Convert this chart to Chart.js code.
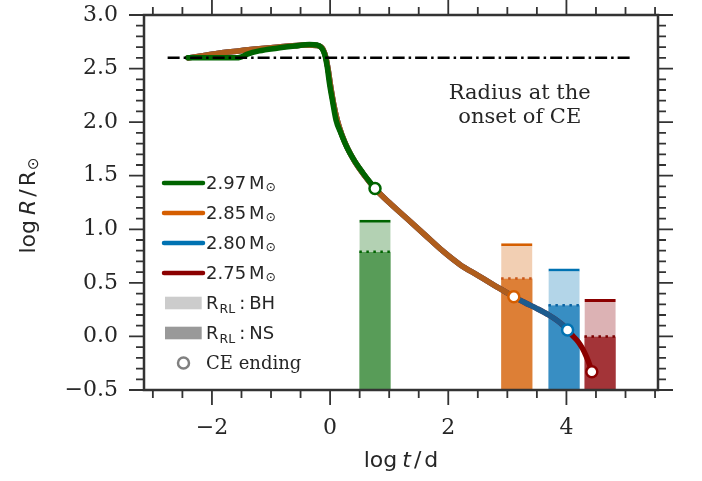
<!DOCTYPE html>
<html>
<head>
<meta charset="utf-8">
<script src="https://cdn.jsdelivr.net/npm/chart.js@4.4.1/dist/chart.umd.min.js"></script>
<style>
  html, body { margin: 0; padding: 0; background: #fff; }
</style>
</head>
<body>
<canvas id="chart" width="702" height="481"></canvas>
<script>
// donor masses (Msun)
const massLabels = ["2.97", "2.85", "2.80", "2.75"];

// radius tracks: log t / d  vs  log R / Rsun
const t297 = [-2.41, -2.0, -1.6, -1.5, -1.4, -1.2, -0.9, -0.6, -0.35, -0.22, -0.14, -0.09, -0.05, -0.01, 0.04, 0.1, 0.18, 0.28, 0.4, 0.55, 0.76];
const r297 = [2.60, 2.60, 2.60, 2.61, 2.635, 2.665, 2.69, 2.71, 2.725, 2.72, 2.69, 2.63, 2.52, 2.36, 2.2, 2.02, 1.90, 1.77, 1.65, 1.53, 1.38];

const t285 = [-2.4, -2.1, -1.8, -1.55, -1.3, -1.0, -0.7, -0.4, -0.22, -0.12, -0.07, -0.03, 0.01, 0.06, 0.12, 0.2, 0.3, 0.42, 0.57, 0.76, 1.0, 1.3, 1.6, 1.9, 2.2, 2.5, 2.8, 3.11];
const r285 = [2.60, 2.625, 2.65, 2.665, 2.68, 2.695, 2.71, 2.72, 2.715, 2.68, 2.60, 2.48, 2.33, 2.17, 2.02, 1.88, 1.75, 1.63, 1.51, 1.38, 1.25, 1.10, 0.95, 0.80, 0.67, 0.57, 0.47, 0.37];

const t280 = [-2.4, -2.1, -1.8, -1.55, -1.3, -1.0, -0.7, -0.4, -0.22, -0.12, -0.07, -0.03, 0.01, 0.06, 0.12, 0.2, 0.3, 0.42, 0.57, 0.76, 1.0, 1.3, 1.6, 1.9, 2.2, 2.5, 2.8, 3.11, 3.3, 3.5, 3.7, 3.84, 3.93, 4.02];
const r280 = [2.60, 2.625, 2.65, 2.665, 2.68, 2.695, 2.71, 2.72, 2.715, 2.68, 2.60, 2.48, 2.33, 2.17, 2.02, 1.88, 1.75, 1.63, 1.51, 1.38, 1.25, 1.10, 0.95, 0.80, 0.67, 0.57, 0.47, 0.37, 0.315, 0.26, 0.20, 0.15, 0.11, 0.06];

const t275 = [-2.4, -2.1, -1.8, -1.55, -1.3, -1.0, -0.7, -0.4, -0.22, -0.12, -0.07, -0.03, 0.01, 0.06, 0.12, 0.2, 0.3, 0.42, 0.57, 0.76, 1.0, 1.3, 1.6, 1.9, 2.2, 2.5, 2.8, 3.11, 3.3, 3.5, 3.7, 3.84, 3.93, 4.02, 4.1, 4.2, 4.27, 4.34, 4.39, 4.43];
const r275 = [2.60, 2.625, 2.65, 2.665, 2.68, 2.695, 2.71, 2.72, 2.715, 2.68, 2.60, 2.48, 2.33, 2.17, 2.02, 1.88, 1.75, 1.63, 1.51, 1.38, 1.25, 1.10, 0.95, 0.80, 0.67, 0.57, 0.47, 0.37, 0.315, 0.26, 0.20, 0.15, 0.11, 0.06, 0.01, -0.05, -0.11, -0.19, -0.26, -0.33];

// end of the common envelope phase
const ceEndT = [0.76, 3.11, 4.02, 4.43];
const ceEndR = [1.38, 0.37, 0.06, -0.33];

// Roche lobe radius bars (log R / Rsun) for NS and BH companions
const barT = [0.76, 3.16, 3.96, 4.57];
const rlNS = [0.79, 0.54, 0.29, 0.0];
const rlBH = [1.09, 0.87, 0.635, 0.35];

// radius at the onset of CE
const onsetT = [-2.75, 5.13];
const onsetR = 2.6;

// axes
const xTicks = [-2, 0, 2, 4];
const yTicks = [-0.5, 0.0, 0.5, 1.0, 1.5, 2.0, 2.5, 3.0];

// styles
const SANS = "DejaVu Sans", SERIF = "DejaVu Serif", INK = "#262626";
const lineColors = ["#006400", "rgba(213,94,0,0.8)", "rgba(0,114,178,0.8)", "#8b0000"];
const solidColors = ["#006400", "#d55e00", "#0072b2", "#8b0000"];
const nsFill = ["rgb(88,156,88)", "rgb(221,127,54)", "rgb(56,142,195)", "rgb(163,52,56)"];
const bhFill = ["rgb(179,209,179)", "rgb(242,207,179)", "rgb(179,213,232)", "rgb(220,178,180)"];
const dotColors = ["#006400", "#c9571a", "#0a64a4", "#7a0000"];
const barWidth = 0.53;
const yBase = -0.5;

const pts = (xs, ys) => xs.map((v, i) => ({ x: v, y: ys[i] }));
const minGap = Math.min(...barT.slice(1).map((v, i) => v - barT[i]));

const tracks = [[t297, r297], [t285, r285], [t280, r280], [t275, r275]];

const datasets = [];
tracks.forEach(([t, r], i) => {
  datasets.push({
    type: "line",
    label: massLabels[i],
    data: pts(t, r),
    borderColor: lineColors[i],
    borderWidth: 5.5,
    pointRadius: 0,
    cubicInterpolationMode: "monotone",
    borderCapStyle: "round",
    borderJoinStyle: "round",
    order: 3 + i
  });
});

datasets.push({
  type: "line",
  label: "onset",
  data: onsetT.map(v => ({ x: v, y: onsetR })),
  borderColor: "#000",
  borderWidth: 2.5,
  borderDash: [12, 4, 2.5, 4],
  pointRadius: 0,
  order: 2
});

datasets.push({
  type: "scatter",
  label: "CE ending",
  data: pts(ceEndT, ceEndR),
  pointRadius: 5.5,
  pointBorderWidth: 2.5,
  pointBackgroundColor: "#fff",
  pointBorderColor: solidColors,
  order: 1
});

datasets.push({
  type: "bar",
  label: "R_RL NS",
  data: barT.map((t, i) => ({ x: t, y: [yBase, rlNS[i]] })),
  backgroundColor: nsFill,
  borderWidth: 0,
  grouped: false,
  categoryPercentage: 1,
  barPercentage: barWidth / minGap,
  order: 10
});

datasets.push({
  type: "bar",
  label: "R_RL BH",
  data: barT.map((t, i) => ({ x: t, y: [rlNS[i], rlBH[i]] })),
  backgroundColor: bhFill,
  borderColor: solidColors,
  borderWidth: { top: 3, right: 0, bottom: 0, left: 0 },
  grouped: false,
  categoryPercentage: 1,
  barPercentage: barWidth / minGap,
  order: 10
});

barT.forEach((t, i) => {
  datasets.push({
    type: "line",
    label: "ns" + i,
    data: [{ x: t - barWidth / 2, y: rlNS[i] }, { x: t + barWidth / 2, y: rlNS[i] }],
    borderColor: dotColors[i],
    borderWidth: 2.5,
    borderDash: [2.5, 4.5],
    pointRadius: 0,
    order: 9
  });
});

// draw a row of text pieces (for sub/superscripts and italics)
function drawRuns(ctx, x, y, runs, measureOnly) {
  const x0 = x;
  for (const r of runs) {
    x += r.dx || 0;
    if (!r.text) continue;
    ctx.font = r.font;
    if (!measureOnly) ctx.fillText(r.text, x, y + (r.dy || 0));
    x += ctx.measureText(r.text).width;
  }
  return x - x0;
}

const framePlugin = {
  id: "frame",
  afterDraw(chart) {
    const { ctx, chartArea: a, scales: { x, y } } = chart;
    ctx.save();

    // ticks on all four sides
    ctx.strokeStyle = "#333";
    ctx.lineWidth = 1.8;
    ctx.beginPath();
    for (let i = Math.ceil(x.min * 2); i <= Math.floor(x.max * 2); i++) {
      const px = x.getPixelForValue(i / 2);
      const len = i % 4 === 0 ? 15 : 8;
      ctx.moveTo(px, a.bottom); ctx.lineTo(px, a.bottom + len);
      ctx.moveTo(px, a.top); ctx.lineTo(px, a.top - len);
    }
    for (let i = Math.ceil(y.min * 10 - 1e-6); i <= Math.floor(y.max * 10 + 1e-6); i++) {
      const py = y.getPixelForValue(i / 10);
      const len = i % 5 === 0 ? 15 : 8;
      ctx.moveTo(a.left, py); ctx.lineTo(a.left - len, py);
      ctx.moveTo(a.right, py); ctx.lineTo(a.right + len, py);
    }
    ctx.stroke();

    ctx.lineWidth = 2.5;
    ctx.strokeRect(a.left, a.top, a.right - a.left, a.bottom - a.top);

    // axis titles
    ctx.fillStyle = INK;
    ctx.textBaseline = "alphabetic";
    ctx.textAlign = "left";
    const f22 = "22px " + SANS;
    const xTitle = [
      { text: "log", font: f22 }, { dx: 5, text: "t", font: "italic " + f22 },
      { dx: 3, text: "/", font: f22 }, { dx: 3, text: "d", font: f22 }
    ];
    const xw = drawRuns(ctx, 0, 0, xTitle, true);
    drawRuns(ctx, (a.left + a.right) / 2 - xw / 2, 467, xTitle);

    const yTitle = [
      { text: "log", font: f22 }, { dx: 5, text: "R", font: "italic " + f22 },
      { dx: 3, text: "/", font: f22 }, { dx: 3, text: "R", font: f22 },
      { dx: 1, text: "\u2299", font: "15px " + SANS, dy: 3 }
    ];
    const yw = drawRuns(ctx, 0, 0, yTitle, true);
    ctx.save();
    ctx.translate(35, (a.top + a.bottom) / 2 + 3);
    ctx.rotate(-Math.PI / 2);
    drawRuns(ctx, -yw / 2, 0, yTitle);
    ctx.restore();

    // note
    ctx.font = "21px " + SERIF;
    ctx.textAlign = "center";
    ctx.textBaseline = "middle";
    const nx = x.getPixelForValue(3.21);
    ctx.fillText("Radius at the", nx, y.getPixelForValue(2.265));
    ctx.fillText("onset of CE", nx, y.getPixelForValue(2.04));

    // legend
    ctx.textAlign = "left";
    ctx.textBaseline = "alphabetic";
    const lx = a.left + 20, tx = a.left + 62;
    let ly = a.top + 168;
    const f18 = "18px " + SANS;
    massLabels.forEach((m, i) => {
      ctx.strokeStyle = solidColors[i];
      ctx.lineWidth = 4.5;
      ctx.lineCap = "round";
      ctx.beginPath(); ctx.moveTo(lx, ly); ctx.lineTo(lx + 39, ly); ctx.stroke();
      drawRuns(ctx, tx, ly + 6, [
        { text: m, font: f18 }, { dx: 3, text: "M", font: f18 },
        { dx: 1, text: "\u2299", font: "12.5px " + SANS, dy: 2 }
      ]);
      ly += 30;
    });
    [["#cccccc", "BH"], ["#999999", "NS"]].forEach(([c, kind]) => {
      ctx.fillStyle = c;
      ctx.fillRect(lx + 1, ly - 6.3, 36.7, 12.6);
      ctx.fillStyle = INK;
      drawRuns(ctx, tx, ly + 6, [
        { text: "R", font: f18 }, { dx: 1, text: "RL", font: "12.5px " + SANS, dy: 3.5 },
        { dx: 4, text: ":", font: f18 }, { dx: 4, text: kind, font: f18 }
      ]);
      ly += 30;
    });
    ctx.strokeStyle = "#808080";
    ctx.lineWidth = 2.5;
    ctx.fillStyle = "#fff";
    ctx.beginPath(); ctx.arc(lx + 19.5, ly, 5.5, 0, Math.PI * 2); ctx.fill(); ctx.stroke();
    ctx.fillStyle = INK;
    ctx.font = "18px " + SERIF;
    ctx.fillText("CE ending", tx, ly + 6);

    ctx.restore();
  }
};

new Chart(document.getElementById("chart"), {
  type: "line",
  data: { datasets: datasets },
  options: {
    responsive: false,
    animation: false,
    devicePixelRatio: 1,
    layout: { padding: { top: 15, right: 44, left: 0, bottom: 0 } },
    plugins: { legend: { display: false }, tooltip: { enabled: false } },
    scales: {
      x: {
        type: "linear",
        min: -3.15,
        max: 5.55,
        offset: false,
        afterBuildTicks: s => { s.ticks = xTicks.map(v => ({ value: v })); },
        afterFit: s => { s.height = 91; s.paddingLeft = 0; s.paddingRight = 0; },
        grid: { display: false, drawTicks: false, offset: false },
        border: { display: false },
        ticks: {
          font: { family: SERIF, size: 22 },
          color: INK,
          padding: 25,
          maxRotation: 0,
          autoSkip: false,
          callback: v => (v < 0 ? "\u2212" : "") + Math.abs(v)
        }
      },
      y: {
        type: "linear",
        min: -0.5,
        max: 3.0,
        afterBuildTicks: s => { s.ticks = yTicks.map(v => ({ value: v })); },
        afterFit: s => { s.width = 144; s.paddingTop = 0; s.paddingBottom = 0; },
        grid: { display: false, drawTicks: false },
        border: { display: false },
        ticks: {
          font: { family: SERIF, size: 22 },
          color: INK,
          padding: 26,
          autoSkip: false,
          callback: v => (v < 0 ? "\u2212" : "") + Math.abs(v).toFixed(1)
        }
      }
    }
  },
  plugins: [framePlugin]
});
</script>
</body>
</html>
